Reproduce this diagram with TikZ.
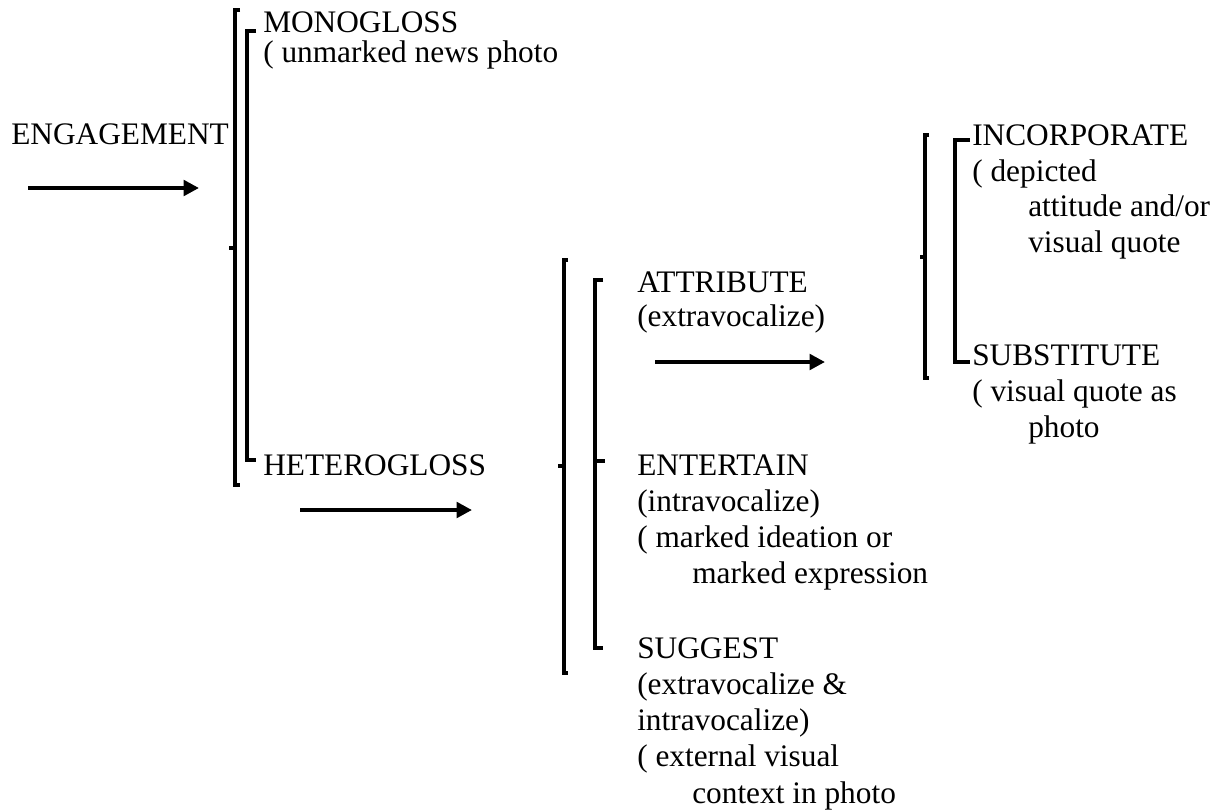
\documentclass[tikz,border=0pt]{standalone}
\usepackage{fontspec}
\setmainfont{Liberation Serif}
\usetikzlibrary{arrows.meta}
\begin{document}
\begin{tikzpicture}[x=0.75pt,y=-0.75pt,
  lbl/.style={anchor=base west, inner sep=0pt, font=\fontsize{23.5}{27}\selectfont},
  brk/.style={line width=2.6pt, line cap=butt, line join=miter},
  arr/.style={line width=3pt, -{Triangle[length=11.5pt,width=11.5pt]}}]
\useasboundingbox (0,0) rectangle (1221,811);

% ---- texts ----
\node[lbl] (eng) at (11,144) {ENGAGEMENT};
\node[lbl] (mono) at (263,32) {MONOGLOSS};
\node[lbl] (mono1) at (263,62) {( unmarked news photo};
\node[lbl] (hetero) at (263,475) {HETEROGLOSS};

\node[lbl] (attr) at (637,292) {ATTRIBUTE};
\node[lbl] (attr1) at (637,326) {(extravocalize)};

\node[lbl] (ent) at (637,475) {ENTERTAIN};
\node[lbl] (ent1) at (637,511) {(intravocalize)};
\node[lbl] (ent2) at (637,547) {( marked ideation or};
\node[lbl] (ent3) at (692,583) {marked expression};

\node[lbl] (sug) at (637,658) {SUGGEST};
\node[lbl] (sug1) at (637,694) {(extravocalize \&};
\node[lbl] (sug2) at (637,730) {intravocalize)};
\node[lbl] (sug3) at (637,766) {( external visual};
\node[lbl] (sug4) at (692,803) {context in photo};

\node[lbl] (inc) at (972,145) {INCORPORATE};
\node[lbl] (inc1) at (972,181) {( depicted};
\node[lbl] (inc2) at (1028,216) {attitude and/or};
\node[lbl] (inc3) at (1028,252) {visual quote};

\node[lbl] (sub) at (972,365) {SUBSTITUTE};
\node[lbl] (sub1) at (972,401) {( visual quote as};
\node[lbl] (sub2) at (1028,437) {photo};

% ---- arrows ----
\coordinate (a1s) at (28,188);  \coordinate (a1e) at (199,188);
\coordinate (a2s) at (300,510); \coordinate (a2e) at (472,510);
\coordinate (a3s) at (655,362); \coordinate (a3e) at (825,362);
\draw[arr] (a1s) -- (a1e);
\draw[arr] (a2s) -- (a2e);
\draw[arr] (a3s) -- (a3e);

% ---- brackets: engagement system ----
\draw[brk] (240,10) -- (235,10) -- (235,485) -- (240,485);
\draw[brk] (235,248) -- (229,248);
\draw[brk] (256,31) -- (247,31) -- (247,460) -- (256,460);

% ---- brackets: heterogloss system ----
\draw[brk] (568,260) -- (564,260) -- (564,673) -- (568,673);
\draw[brk] (564,466) -- (558,466);
\draw[brk] (603,280) -- (595,280) -- (595,648) -- (603,648);
\draw[brk] (595,461) -- (605,461);

% ---- brackets: attribute system ----
\draw[brk] (929,135) -- (925,135) -- (925,378) -- (929,378);
\draw[brk] (925,257) -- (920,257);
\draw[brk] (970,140) -- (955,140) -- (955,362) -- (970,362);
\end{tikzpicture}
\end{document}
